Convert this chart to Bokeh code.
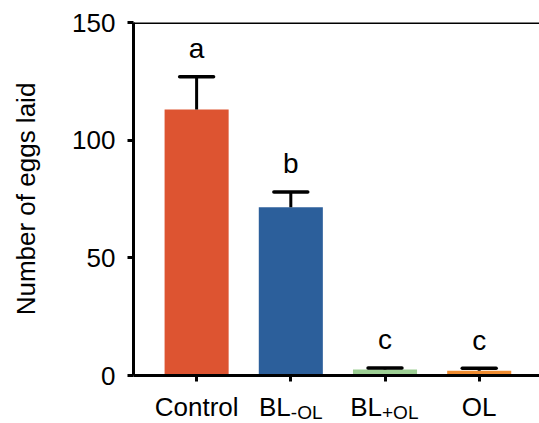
from bokeh.plotting import figure
from bokeh.layouts import column
from bokeh.models import Range1d, Span, FixedTicker, ColumnDataSource
from bokeh.core.properties import value
from bokeh.embed import file_html
from bokeh.resources import INLINE

# ---- data ----
groups_main = ["Control", "BL", "BL", "OL"]
groups_sub = ["", "-OL", "+OL", ""]
means = [113, 71.5, 2.5, 2.0]
errors = [14, 6.5, 0.7, 1.1]
letters = ["a", "b", "c", "c"]
colors = ["#DD5431", "#2C5F9B", "#9DCF94", "#EF8B2F"]
y_ticks = [0, 50, 100, 150]

FONT = "Liberation Sans"
xs = list(range(len(means)))
tops = [m + e for m, e in zip(means, errors)]
xr = Range1d(-0.67, 3.64)

p = figure(width=539, height=391, output_backend="svg", toolbar_location=None,
           x_range=xr, y_range=Range1d(0, 150),
           min_border_left=133, min_border_right=0, min_border_top=22, min_border_bottom=16)
p.outline_line_color = None
p.grid.grid_line_color = None

src = ColumnDataSource(dict(x=xs, top=means, err_top=tops, color=colors, letter=letters))

p.vbar(x="x", top="top", bottom=0, width=0.68, fill_color="color", line_color=None, source=src)
p.segment(x0="x", y0="top", x1="x", y1="err_top", line_color="black", line_width=3, source=src)
cap = 0.18
p.segment(x0=[x - cap for x in xs], y0=tops, x1=[x + cap for x in xs], y1=tops,
          line_color="black", line_width=3.5, line_cap="round")

p.text(x="x", y="err_top", text="letter", source=src, text_align="center",
       text_baseline="alphabetic", y_offset=-28, text_font=value(FONT),
       text_font_size="28px", text_color="black")

# top line
p.add_layout(Span(location=150, dimension="width", line_color="black", line_width=3))

# y axis
ya = p.yaxis[0]
ya.ticker = FixedTicker(ticks=y_ticks)
ya.axis_line_width = 3
ya.major_tick_line_width = 3
ya.major_tick_out = 6
ya.major_tick_in = 0
ya.minor_tick_line_color = None
ya.major_label_standoff = 12
ya.major_label_text_font = FONT
ya.major_label_text_font_size = "26px"
ya.major_label_text_color = "black"
ya.axis_label = "Number of eggs laid"
ya.axis_label_text_font = FONT
ya.axis_label_text_font_size = "26px"
ya.axis_label_text_font_style = "normal"
ya.axis_label_text_color = "black"
ya.axis_label_standoff = 28

# x axis
xa = p.xaxis[0]
xa.ticker = FixedTicker(ticks=xs)
xa.major_label_overrides = {x: "" for x in xs}
xa.major_label_standoff = 0
xa.axis_line_width = 3
xa.major_tick_line_width = 3
xa.major_tick_out = 6
xa.major_tick_in = 0
xa.minor_tick_line_color = None

# ---- category labels (with subscripts) in a strip below ----
q = figure(width=539, height=32, output_backend="svg", toolbar_location=None,
           x_range=xr, y_range=Range1d(0, 1), x_axis_type=None, y_axis_type=None,
           min_border_left=133, min_border_right=0, min_border_top=0, min_border_bottom=0)
q.outline_line_color = None
q.grid.grid_line_color = None

plain = [i for i, s in enumerate(groups_sub) if not s]
subbed = [i for i, s in enumerate(groups_sub) if s]

q.text(x=[xs[i] for i in plain], y=[1] * len(plain), text=[groups_main[i] for i in plain],
       text_align="center", text_baseline="alphabetic", y_offset=15,
       text_font=value(FONT), text_font_size="26px", text_color="black")
q.text(x=[xs[i] for i in subbed], y=[1] * len(subbed), text=[groups_main[i] for i in subbed],
       x_offset=[-3 if groups_sub[i].startswith("+") else 0 for i in subbed],
       text_align="right", text_baseline="alphabetic", y_offset=15,
       text_font=value(FONT), text_font_size="26px", text_color="black")
q.text(x=[xs[i] for i in subbed], y=[1] * len(subbed), text=[groups_sub[i] for i in subbed],
       x_offset=[-3 if groups_sub[i].startswith("+") else 0 for i in subbed],
       text_align="left", text_baseline="alphabetic", y_offset=21,
       text_font=value(FONT), text_font_size="19px", text_color="black")

layout = column(p, q, spacing=0)
open("out.html", "w").write(file_html(layout, INLINE))
